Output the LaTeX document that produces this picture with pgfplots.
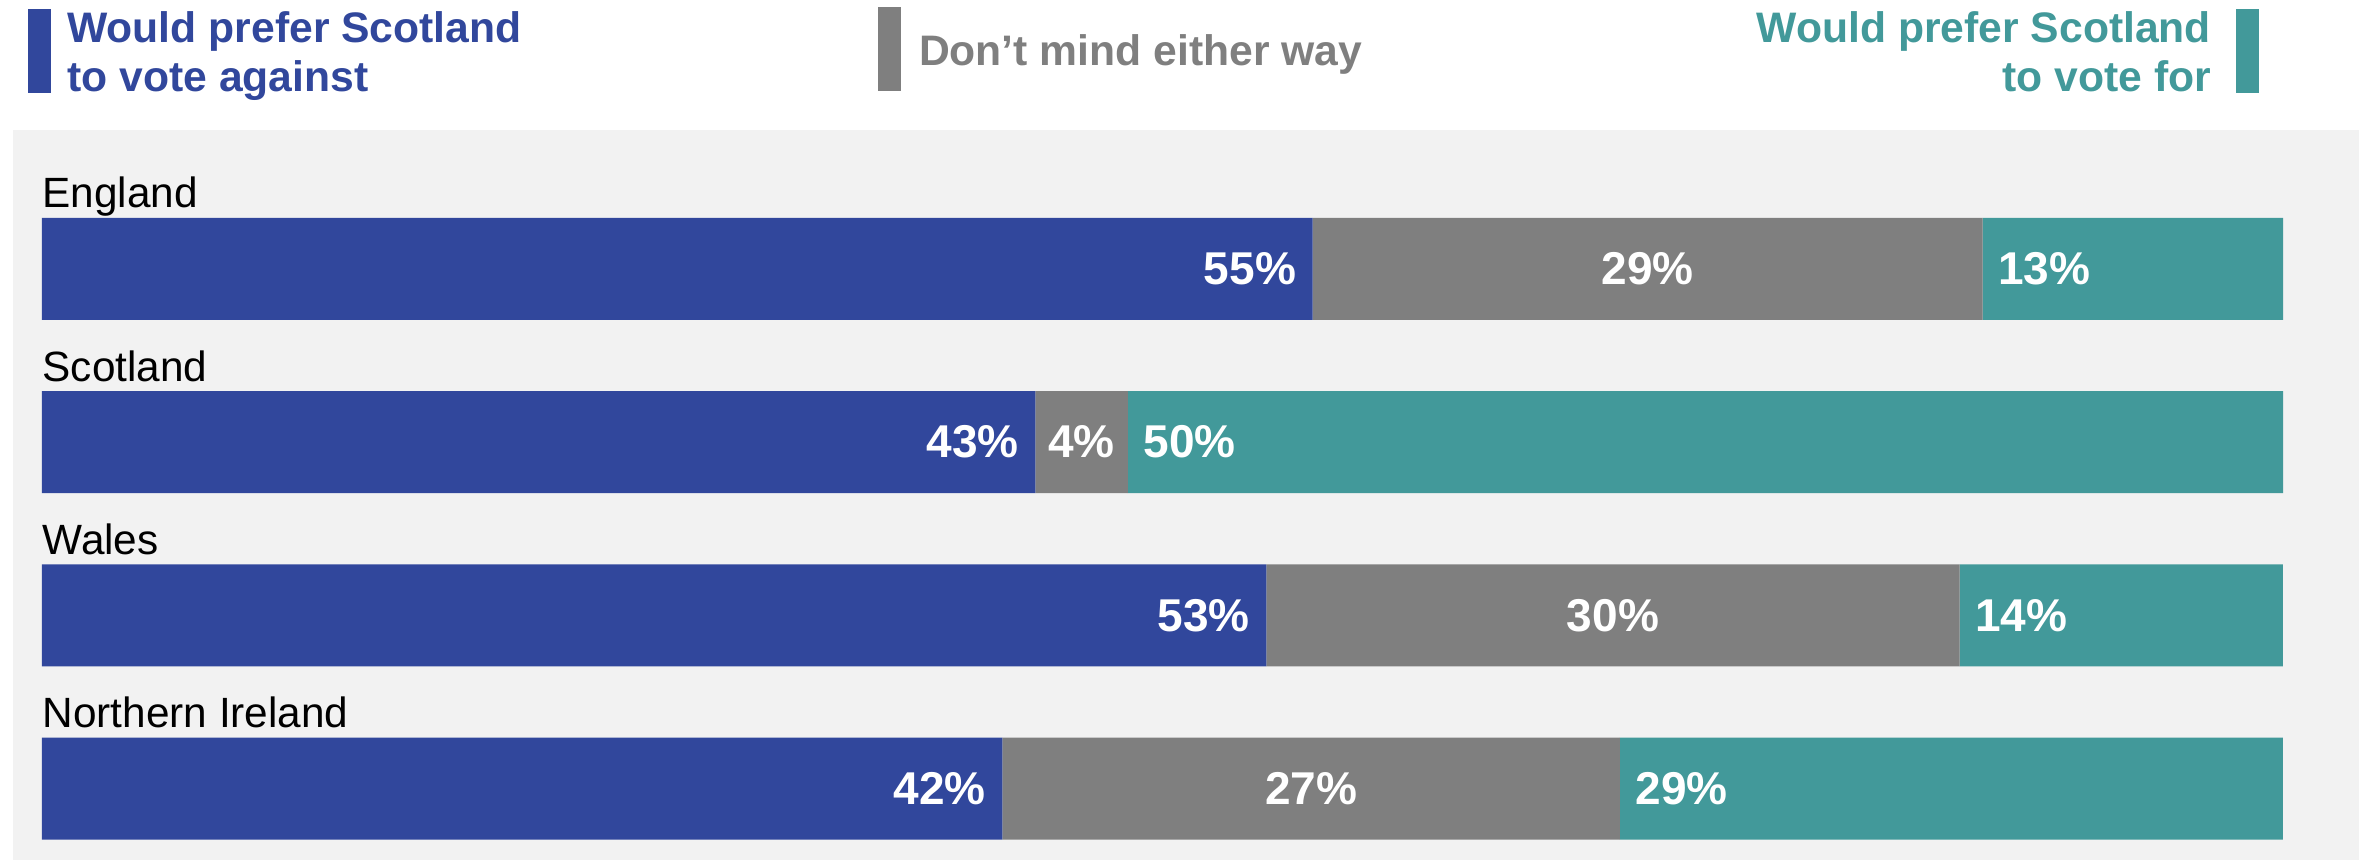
\documentclass[border=0pt]{standalone}
\usepackage{pgfplots}
\pgfplotsset{compat=1.18}
\usepackage{pgfplotstable}
\usepackage{fontspec}
\setmainfont{Liberation Sans}

\definecolor{cagainst}{HTML}{31479C}
\definecolor{cdk}{HTML}{7F7F7F}
\definecolor{cfor}{HTML}{42999A}
\definecolor{panel}{HTML}{F2F2F2}

% rows: 0 England, 1 Scotland, 2 Wales, 3 Northern Ireland
\pgfplotstableread{
y against dk for
0 55 29 13
1 43 4  50
2 53 30 14
3 42 27 29
}\votes

% each bar is scaled to the full width
\newcommand{\share}[1]{100*\thisrow{#1}/(\thisrow{against}+\thisrow{dk}+\thisrow{for})}

\begin{document}
\begin{tikzpicture}
\useasboundingbox (-3.9pt,39pt) rectangle (706.8pt,-219pt);
\begin{axis}[
    at={(0,0)}, anchor=north west,
    x=6.723pt, y=51.95pt,
    xmin=-1.294, xmax=103.39,
    ymin=-0.8025, ymax=3.412,
    y dir=reverse,
    xbar stacked, bar width=0.589,
    axis background/.style={fill=panel},
    axis line style={draw=none},
    xtick=\empty, ytick=\empty,
    clip=false,
    point meta=explicit symbolic,
    nodes near coords={\pgfplotspointmeta\%},
    every node near coord/.append style={
        font=\bfseries\fontsize{13.8pt}{13.8pt}\selectfont,
        text=white, inner sep=0pt},
]
% stacked labels sit at the middle of each segment
\addplot[fill=cagainst, draw=none,
    visualization depends on={\share{against} \as \segw},
    nodes near coords style={anchor=east, xshift={0.5*\segw*6.723pt-4.8pt}}]
    table[x expr=\share{against}, y=y, meta=against] {\votes};
\addplot[fill=cdk, draw=none,
    nodes near coords style={anchor=center}]
    table[x expr=\share{dk}, y=y, meta=dk] {\votes};
\addplot[fill=cfor, draw=none,
    visualization depends on={\share{for} \as \segw},
    nodes near coords style={anchor=west, xshift={-0.5*\segw*6.723pt+4.5pt}}]
    table[x expr=\share{for}, y=y, meta=for] {\votes};

\node[anchor=base west, inner sep=0pt, font=\fontsize{12.7pt}{12.7pt}\selectfont, yshift=18.3pt] at (axis cs:0,0) {England};
\node[anchor=base west, inner sep=0pt, font=\fontsize{12.7pt}{12.7pt}\selectfont, yshift=18.3pt] at (axis cs:0,1) {Scotland};
\node[anchor=base west, inner sep=0pt, font=\fontsize{12.7pt}{12.7pt}\selectfont, yshift=18.3pt] at (axis cs:0,2) {Wales};
\node[anchor=base west, inner sep=0pt, font=\fontsize{12.7pt}{12.7pt}\selectfont, yshift=18.3pt] at (axis cs:0,3) {Northern Ireland};
\end{axis}

% legend above the panel
\tikzset{leg/.style={inner sep=0pt, font=\bfseries\fontsize{12.8pt}{12.8pt}\selectfont}}
\fill[cagainst] (4.5pt,36.3pt) rectangle (11.4pt,11.1pt);
\node[leg, text=cagainst, anchor=base west] at (16.1pt,26.2pt) {Would prefer Scotland};
\node[leg, text=cagainst, anchor=base west] at (16.1pt,11.5pt) {to vote against};

\fill[cdk] (259.5pt,37pt) rectangle (266.3pt,11.8pt);
\node[leg, text=cdk, anchor=base west] at (271.6pt,19.5pt) {Don’t mind either way};

\fill[cfor] (666.9pt,36.3pt) rectangle (673.8pt,11.2pt);
\node[leg, text=cfor, anchor=base east] at (659.6pt,26.2pt) {Would prefer Scotland};
\node[leg, text=cfor, anchor=base east] at (659.6pt,11.5pt) {to vote for};
\end{tikzpicture}
\end{document}
